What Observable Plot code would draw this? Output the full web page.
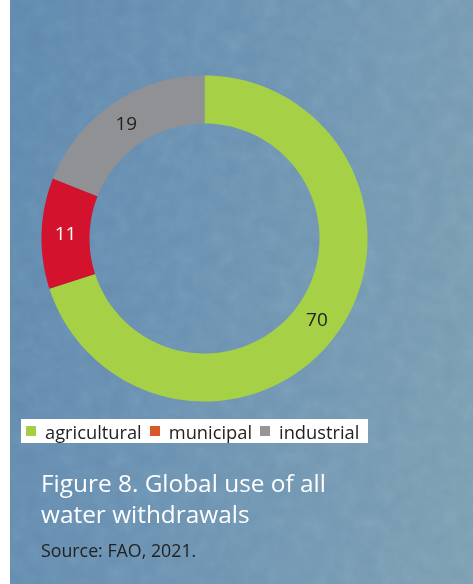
<!DOCTYPE html>
<html>
<head>
<meta charset="utf-8">
<script src="https://cdn.jsdelivr.net/npm/d3@7"></script>
<script src="https://cdn.jsdelivr.net/npm/@observablehq/plot@0.6"></script>
<style>
  html, body { margin: 0; padding: 0; }
  body {
    width: 473px; height: 584px; overflow: hidden; position: relative;
    background: #fff;
    font-family: "Open Sans", sans-serif;
  }
  #panel {
    position: absolute; left: 10px; top: 0; width: 463px; height: 584px;
    background: linear-gradient(100deg, #5f88ae 0%, #6d93b2 50%, #7c9fb2 100%);
  }
  #noise {
    position: absolute; left: 10px; top: 0; width: 463px; height: 584px;
    opacity: 0.16; mix-blend-mode: overlay;
  }
  #chart { position: absolute; left: 0; top: 0; }
  #legend {
    position: absolute; left: 21px; top: 419px; width: 347px; height: 24px;
    background: #fff; display: flex; align-items: center;
    font-size: 18.3px; color: #222; white-space: nowrap;
  }
  #legend .sw { display: inline-block; width: 10px; height: 10px; margin: 0 9px 0 8px; }
  #legend .item:first-child .sw { margin-left: 5px; }
  #legend .item { display: flex; align-items: center; }
  #title {
    position: absolute; left: 41px; top: 467px; color: #fff;
    font-size: 24.4px; line-height: 31px;
  }
  #source {
    position: absolute; left: 41px; top: 538px; color: #222; font-size: 17.8px;
  }
</style>
</head>
<body>
<div id="panel"></div>
<svg id="noise" width="463" height="584">
  <filter id="nf"><feTurbulence type="fractalNoise" baseFrequency="0.06" numOctaves="3" seed="4"/><feColorMatrix type="saturate" values="0"/></filter>
  <rect width="463" height="584" filter="url(#nf)"/>
</svg>
<div id="chart"></div>
<div id="legend"></div>
<div id="title">Figure 8. Global use of all<br>water withdrawals</div>
<div id="source">Source: FAO, 2021.</div>
<script>
const categories = ["agricultural", "municipal", "industrial"];
const values = [70, 11, 19];
const sliceColors = ["#a6d146", "#d3122e", "#8f9194"];
const legendColors = ["#a6cf45", "#d9592b", "#959595"];
const labelColors = ["#222222", "#ffffff", "#222222"];

const R_OUT = 163, R_IN = 115, R_LABEL = 139;

const pie = d3.pie().sort(null).startAngle(0).endAngle(2 * Math.PI);
const arcs = pie(values);

const polys = [];
arcs.forEach((a, i) => {
  const n = 120;
  for (let k = 0; k <= n; k++) {
    const t = a.startAngle + (a.endAngle - a.startAngle) * k / n;
    polys.push({cat: categories[i], x: R_OUT * Math.sin(t), y: R_OUT * Math.cos(t)});
  }
  for (let k = n; k >= 0; k--) {
    const t = a.startAngle + (a.endAngle - a.startAngle) * k / n;
    polys.push({cat: categories[i], x: R_IN * Math.sin(t), y: R_IN * Math.cos(t)});
  }
});

const labels = arcs.map((a, i) => {
  const m = (a.startAngle + a.endAngle) / 2;
  return {cat: categories[i], value: values[i], color: labelColors[i],
          x: R_LABEL * Math.sin(m), y: R_LABEL * Math.cos(m)};
});

const chart = Plot.plot({
  width: 473,
  height: 410,
  margin: 0,
  style: {background: "transparent", overflow: "visible"},
  x: {domain: [-204, 269], axis: null},
  y: {domain: [-172, 238], axis: null},
  color: {domain: categories, range: sliceColors},
  marks: [
    Plot.line(polys, {x: "x", y: "y", z: "cat", fill: "cat", stroke: "none", curve: "linear-closed"}),
    Plot.text(labels.filter(d => d.color === "#222222"), {x: "x", y: "y", text: d => String(d.value), fill: "#222222", fontSize: 19, fontFamily: "Open Sans"}),
    Plot.text(labels.filter(d => d.color === "#ffffff"), {x: "x", y: "y", text: d => String(d.value), fill: "#ffffff", fontSize: 19, fontFamily: "Open Sans"})
  ]
});
document.getElementById("chart").appendChild(chart);

const legend = document.getElementById("legend");
categories.forEach((c, i) => {
  const item = document.createElement("span");
  item.className = "item";
  const sw = document.createElement("span");
  sw.className = "sw";
  sw.style.background = legendColors[i];
  item.appendChild(sw);
  item.appendChild(document.createTextNode(c));
  legend.appendChild(item);
});
</script>
</body>
</html>
